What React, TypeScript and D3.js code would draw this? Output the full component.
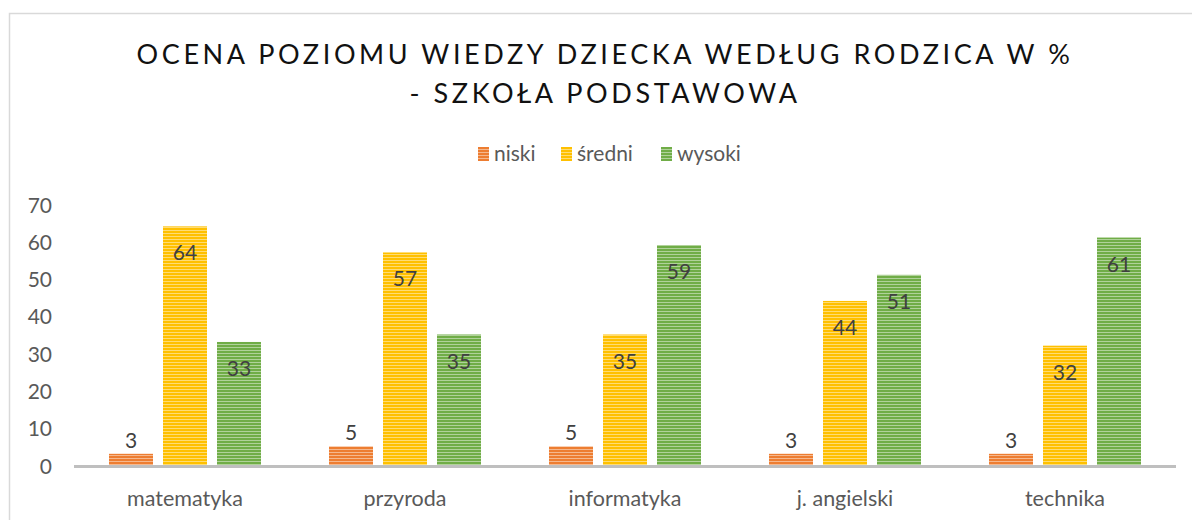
import React from "react";
import * as d3 from "d3";

const categories = ["matematyka", "przyroda", "informatyka", "j. angielski", "technika"];
const seriesNames = ["niski", "średni", "wysoki"];
const niski = [3, 5, 5, 3, 3];
const sredni = [64, 57, 35, 44, 32];
const wysoki = [33, 35, 59, 51, 61];
const yTicks = [0, 10, 20, 30, 40, 50, 60, 70];
const titleLines = ["OCENA POZIOMU WIEDZY DZIECKA WEDŁUG RODZICA W %", "- SZKOŁA PODSTAWOWA"];

const colors = ["#ED7D31", "#FFC000", "#70AD47"];
const FONT = "Lato, 'Open Sans', sans-serif";

export default function App() {
  const W = 1192, H = 520;
  const left = 75, right = 1175, top = 204, bottom = 465;
  const x0 = d3.scaleBand<string>().domain(categories).range([left, right]).paddingInner(0).paddingOuter(0);
  const inner = 152 / 220;
  const x1 = d3.scaleBand<string>().domain(seriesNames).range([0, x0.bandwidth() * inner]).paddingInner(10 / 54);
  const y = d3.scaleLinear().domain([0, 70]).range([bottom, top]);
  const data = [niski, sredni, wysoki];
  const offset = (x0.bandwidth() * (1 - inner)) / 2;

  const legendItems = [
    { name: "niski", x: 478 },
    { name: "średni", x: 561 },
    { name: "wysoki", x: 661 },
  ];

  return (
    <svg width={W} height={H} style={{ position: "absolute", left: 0, top: 0, background: "#fff" }} fontFamily={FONT}>
      <defs>
        {colors.map((c, i) => (
          <pattern key={i} id={`stripe${i}`} width={4} height={3} patternUnits="userSpaceOnUse">
            <rect width={4} height={3} fill={c} />
            <rect y={2} width={4} height={1} fill="#fff" opacity={0.45} />
          </pattern>
        ))}
      </defs>
      <rect x={0} y={0} width={W} height={H} fill="#fff" />
      <rect x={9.5} y={13.5} width={1300} height={700} fill="none" stroke="#d9d9d9" strokeWidth={1.5} />
      {titleLines.map((t, i) => (
        <text key={i} x={605} y={64 + i * 39} textAnchor="middle" fontSize={27} letterSpacing={3.6} fill="#111">
          {t}
        </text>
      ))}
      {legendItems.map((l, i) => (
        <g key={l.name}>
          <rect x={l.x} y={147} width={11} height={14} fill={`url(#stripe${i})`} />
          <text x={l.x + 16} y={161} fontSize={21} fill="#595959">{l.name}</text>
        </g>
      ))}
      {yTicks.map((t) => (
        <text key={t} x={52} y={y(t) + 8.5} textAnchor="end" fontSize={21} fill="#595959">{t}</text>
      ))}
      {categories.map((c, ci) => (
        <g key={c}>
          {seriesNames.map((s, si) => {
            const v = data[si][ci];
            const bx = (x0(c) as number) + offset + (x1(s) as number);
            const bw = x1.bandwidth();
            const by = y(v);
            const inside = v >= 10;
            return (
              <g key={s}>
                <rect x={bx} y={by} width={bw} height={bottom - by} fill={`url(#stripe${si})`} />
                <text x={bx + bw / 2} y={inside ? by + 34 : by - 6} textAnchor="middle" fontSize={21} fill="#404040">{v}</text>
              </g>
            );
          })}
          <text x={(x0(c) as number) + x0.bandwidth() / 2} y={506} textAnchor="middle" fontSize={21.5} fill="#595959">{c}</text>
        </g>
      ))}
      <line x1={left - 1} x2={right + 1} y1={bottom + 1.5} y2={bottom + 1.5} stroke="#bfbfbf" strokeWidth={3} />
    </svg>
  );
}
